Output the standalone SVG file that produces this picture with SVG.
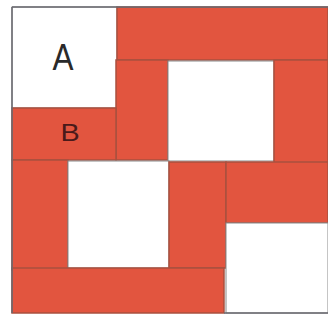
<svg xmlns="http://www.w3.org/2000/svg" width="328" height="322" viewBox="0 0 328 322">
<style>
.red{fill:#e2553f;stroke:#a9503f;stroke-width:1.5}
.white{fill:#ffffff;stroke:#8a8a8a;stroke-width:1}
.lbl{font-family:"Liberation Sans",Arial,sans-serif;text-anchor:middle}
</style>
<rect x="0" y="0" width="328" height="322" fill="#ffffff"/>
<g id="sqA"><rect class="white" x="12" y="7" width="105" height="101"/><text class="lbl" x="63" y="70" font-size="37" fill="#2a2a2a" transform="translate(63 0) scale(0.85 1) translate(-63 0)">A</text></g>
<g id="top-bar"><rect class="red" x="117" y="7" width="211" height="53"/></g>
<g id="v1"><rect class="red" x="116" y="60" width="52" height="100"/></g>
<g id="sq2"><rect class="white" x="168" y="61" width="106" height="100"/></g>
<g id="v2"><rect class="red" x="274" y="60" width="54" height="103"/></g>
<g id="dB"><rect class="red" x="12" y="108" width="104" height="52"/><text class="lbl" x="70" y="141" font-size="24" fill="#4a1a1a" transform="translate(70 0) scale(1.2 1) translate(-70 0)">B</text></g>
<g id="v3"><rect class="red" x="12" y="160" width="56" height="110"/></g>
<g id="sq3"><rect class="white" x="68" y="161" width="101" height="107"/></g>
<g id="v4"><rect class="red" x="169" y="162" width="57" height="106"/></g>
<g id="h1"><rect class="red" x="226" y="162" width="102" height="61"/></g>
<g id="bottom-bar"><rect class="red" x="12" y="268" width="212" height="45"/></g>
<g id="sq4"><rect class="white" x="226" y="223" width="102" height="90"/></g>
<g id="border"><path d="M12 7 H328 M12 7 V313 M224 313 H328" fill="none" stroke="#6a6a70" stroke-width="1.5"/></g>
</svg>
